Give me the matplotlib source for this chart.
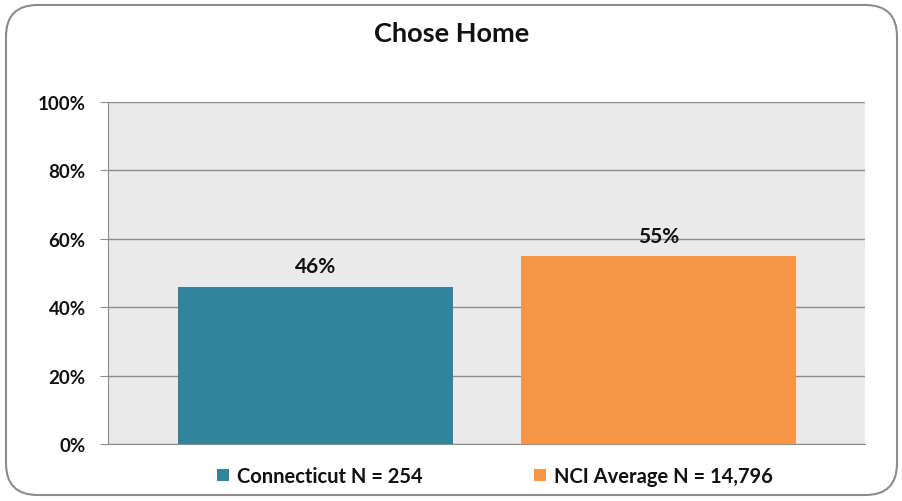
import matplotlib
matplotlib.use("Agg")
import matplotlib.pyplot as plt
from matplotlib.patches import FancyBboxPatch
from matplotlib.ticker import FuncFormatter

title = "Chose Home"
series_names = ["Connecticut N = 254", "NCI Average N = 14,796"]
values = [46, 55]
colors = ["#31849B", "#F79646"]
bar_positions = [0.274, 0.727]
bar_width = 0.363
yticks = [0, 20, 40, 60, 80, 100]

plt.rcParams['font.family'] = ['Lato', 'DejaVu Sans']

fig = plt.figure(figsize=(9.03, 5.02), dpi=100)
fig.patch.set_facecolor("white")

border = FancyBboxPatch((6/903, 6/502), 891/903, 490/502,
                        boxstyle="round,pad=0,rounding_size=0.035",
                        transform=fig.transFigure, facecolor="none",
                        edgecolor="#8C8C8C", linewidth=1.5, mutation_aspect=903/502)
fig.patches.append(border)

ax = fig.add_axes([108/903, 57/502, 757/903, 342/502])
ax.set_facecolor("#EAEAEA")
for x, v, c, n in zip(bar_positions, values, colors, series_names):
    ax.bar(x, v, width=bar_width, color=c, label=n, zorder=3)
    ax.text(x, v + 3, f"{v}%", ha="center", va="bottom", fontsize=15,
            fontweight="bold", color="#111111", zorder=4)

ax.set_xlim(0, 1)
ax.set_ylim(0, 100)
ax.set_yticks(yticks)
ax.yaxis.set_major_formatter(FuncFormatter(lambda v, p: f"{int(v)}%"))
ax.set_xticks([])
ax.grid(axis="y", color="#8C8C8C", linewidth=1.0, zorder=1)
for s in ["top", "right"]:
    ax.spines[s].set_visible(False)
ax.spines["left"].set_color("#8C8C8C")
ax.spines["bottom"].set_color("#8C8C8C")
ax.tick_params(axis="y", length=6, color="#8C8C8C", pad=10, labelsize=13.5)
for lbl in ax.get_yticklabels():
    lbl.set_fontweight("bold")
    lbl.set_color("#111111")

fig.text(0.5, 1 - 34/502, title, ha="center", va="center", fontsize=19.5,
         fontweight="bold", color="#111111")

leg = fig.legend(loc="center", bbox_to_anchor=(0.548, 1 - 477/502), ncol=2,
                 frameon=False, handlelength=0.6, handleheight=0.6,
                 handletextpad=0.4, columnspacing=5.5,
                 prop={"weight": "bold", "size": 14.5})
for t in leg.get_texts():
    t.set_color("#111111")

fig.savefig("out.png", dpi=100)
